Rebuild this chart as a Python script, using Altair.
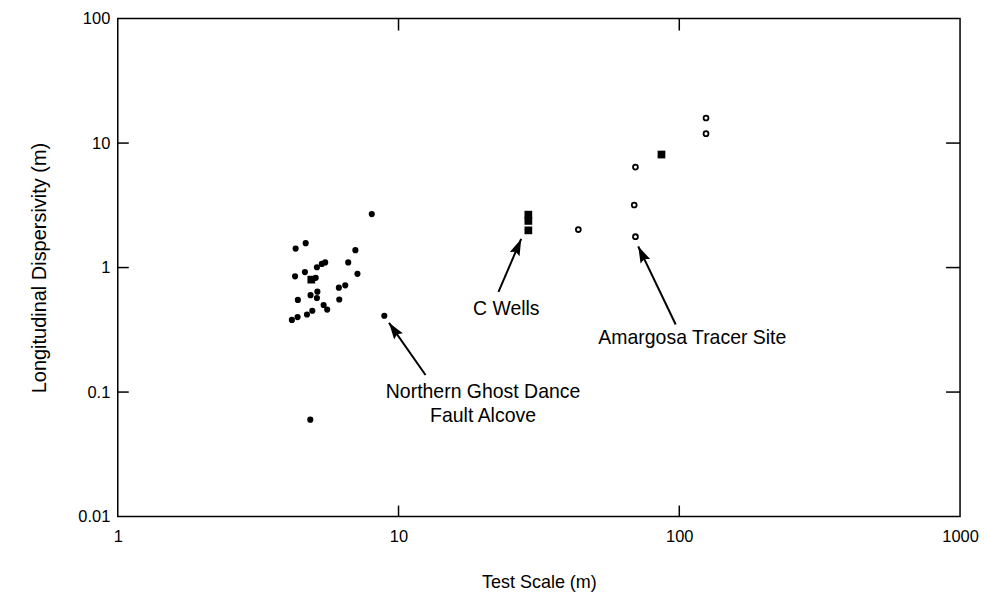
import math
import altair as alt
import pandas as pd

# Northern Ghost Dance Fault Alcove (filled circles)
ngd_x = [8.03, 4.67, 4.30, 7.02, 5.48, 5.33, 5.12, 6.62, 4.64, 4.28, 5.07, 7.14, 6.46, 6.13,
         5.14, 4.86, 5.12, 4.38, 6.15, 5.41, 5.57, 4.93, 4.72, 4.37, 4.17, 8.90, 4.85]
ngd_y = [2.69, 1.57, 1.42, 1.38, 1.10, 1.07, 1.005, 1.10, 0.92, 0.85, 0.827, 0.89, 0.72, 0.69,
         0.64, 0.60, 0.57, 0.55, 0.554, 0.50, 0.46, 0.45, 0.42, 0.40, 0.38, 0.41, 0.060]

# filled squares
sq_x = [4.89, 29.0, 29.0, 29.0, 86.4]
sq_y = [0.80, 2.66, 2.37, 1.99, 8.09]

# open circles
oc_x = [43.7, 69.8, 69.1, 69.8, 124.5, 124.5]
oc_y = [2.02, 6.41, 3.18, 1.77, 15.9, 11.9]

# annotations: label lines, text anchor, arrow tail and tip (data coordinates)
ann_text = ["Northern Ghost Dance", "Fault Alcove", "C Wells", "Amargosa Tracer Site"]
ann_tx = [20.0, 20.0, 24.2, 111.3]
ann_ty = [0.101, 0.064, 0.461, 0.273]

arr_x_tail = [12.48, 22.7, 97.1]
arr_y_tail = [0.137, 0.638, 0.349]
arr_x_tip = [9.25, 27.35, 71.4]
arr_y_tip = [0.360, 1.70, 1.48]

x_ticks = [1, 10, 100, 1000]
y_ticks = [0.01, 0.1, 1, 10, 100]
x_inner_ticks = [10, 100]
y_inner_ticks = [0.1, 1, 10]

W, H = 844, 499
FONT = "Liberation Sans"

xs = alt.Scale(type="log", domain=[1, 1000], nice=False)
ys = alt.Scale(type="log", domain=[0.01, 100], nice=False)

px_dec_x = W / 3.0
px_dec_y = H / 4.0
angles = []
for xa, ya, xb, yb in zip(arr_x_tail, arr_y_tail, arr_x_tip, arr_y_tip):
    dx = (math.log10(xb) - math.log10(xa)) * px_dec_x
    dy_up = (math.log10(yb) - math.log10(ya)) * px_dec_y
    angles.append(math.degrees(math.atan2(dx, dy_up)) % 360)

df_ngd = pd.DataFrame({"x": ngd_x, "y": ngd_y})
df_sq = pd.DataFrame({"x": sq_x, "y": sq_y})
df_oc = pd.DataFrame({"x": oc_x, "y": oc_y})
df_ann = pd.DataFrame({"t": ann_text, "x": ann_tx, "y": ann_ty})
df_arr = pd.DataFrame({"x": arr_x_tail, "y": arr_y_tail, "x2": arr_x_tip, "y2": arr_y_tip,
                       "angle": angles})
df_xt = pd.DataFrame({"v": x_inner_ticks})
df_yt = pd.DataFrame({"v": y_inner_ticks})

xenc = alt.X("x:Q", scale=xs, title="Test Scale (m)",
             axis=alt.Axis(values=x_ticks, format="~g", labelFontSize=16.5, titleFontSize=18,
                           labelFont=FONT, titleFont=FONT, titleFontWeight="normal",
                           labelPadding=12, titlePadding=29, labelColor="black",
                           titleColor="black", ticks=False, domain=False, grid=False,
                           labelFlush=False))
yenc = alt.Y("y:Q", scale=ys, title="Longitudinal Dispersivity (m)",
             axis=alt.Axis(values=y_ticks, format="~g", labelFontSize=16.5, titleFontSize=20,
                           labelFont=FONT, titleFont=FONT, titleFontWeight="normal",
                           labelPadding=8, titlePadding=28, labelColor="black",
                           titleColor="black", ticks=False, domain=False, grid=False,
                           labelFlush=False))

pts = alt.Chart(df_ngd).mark_point(shape="circle", filled=True, size=38, color="black",
                                   opacity=1).encode(x=xenc, y=yenc)
sqs = alt.Chart(df_sq).mark_point(shape="square", filled=True, size=60, color="black",
                                  opacity=1).encode(x=alt.X("x:Q", scale=xs),
                                                    y=alt.Y("y:Q", scale=ys))
ocs = alt.Chart(df_oc).mark_point(shape="circle", filled=False, size=24, color="black",
                                  strokeWidth=1.8, opacity=1).encode(
    x=alt.X("x:Q", scale=xs), y=alt.Y("y:Q", scale=ys))

arr_lines = alt.Chart(df_arr).mark_rule(color="black", strokeWidth=2).encode(
    x=alt.X("x:Q", scale=xs), y=alt.Y("y:Q", scale=ys), x2="x2:Q", y2="y2:Q")
arr_heads = alt.Chart(df_arr).mark_point(
    shape="M0,0L-0.32,1L0,0.85L0.32,1Z", filled=True, size=1100, color="black", opacity=1
).encode(x=alt.X("x2:Q", scale=xs), y=alt.Y("y2:Q", scale=ys),
         angle=alt.Angle("angle:Q", scale=None))

texts = alt.Chart(df_ann).mark_text(font=FONT, fontSize=19.5, color="black", align="center",
                                    baseline="middle").encode(
    x=alt.X("x:Q", scale=xs), y=alt.Y("y:Q", scale=ys), text="t:N")

rule_style = dict(color="black", strokeWidth=1.5)
left_ticks = alt.Chart(df_yt).mark_rule(**rule_style).encode(
    y=alt.Y("v:Q", scale=ys), x=alt.value(0), x2=alt.value(11))
right_ticks = alt.Chart(df_yt).mark_rule(**rule_style).encode(
    y=alt.Y("v:Q", scale=ys), x=alt.value(W - 14), x2=alt.value(W))
bottom_ticks = alt.Chart(df_xt).mark_rule(**rule_style).encode(
    x=alt.X("v:Q", scale=xs), y=alt.value(H), y2=alt.value(H - 11))
top_ticks = alt.Chart(df_xt).mark_rule(**rule_style).encode(
    x=alt.X("v:Q", scale=xs), y=alt.value(0), y2=alt.value(12))

chart = alt.layer(
    pts, left_ticks, right_ticks, bottom_ticks, top_ticks, sqs, ocs, arr_lines, arr_heads, texts
).properties(
    width=W, height=H,
    autosize=alt.AutoSizeParams(type="none"),
    padding={"left": 110, "top": 10, "right": 20, "bottom": 76},
    background="white",
).configure_view(stroke="black", strokeWidth=1.5)

chart.save("out.html", embed_options={"renderer": "svg", "actions": False})
